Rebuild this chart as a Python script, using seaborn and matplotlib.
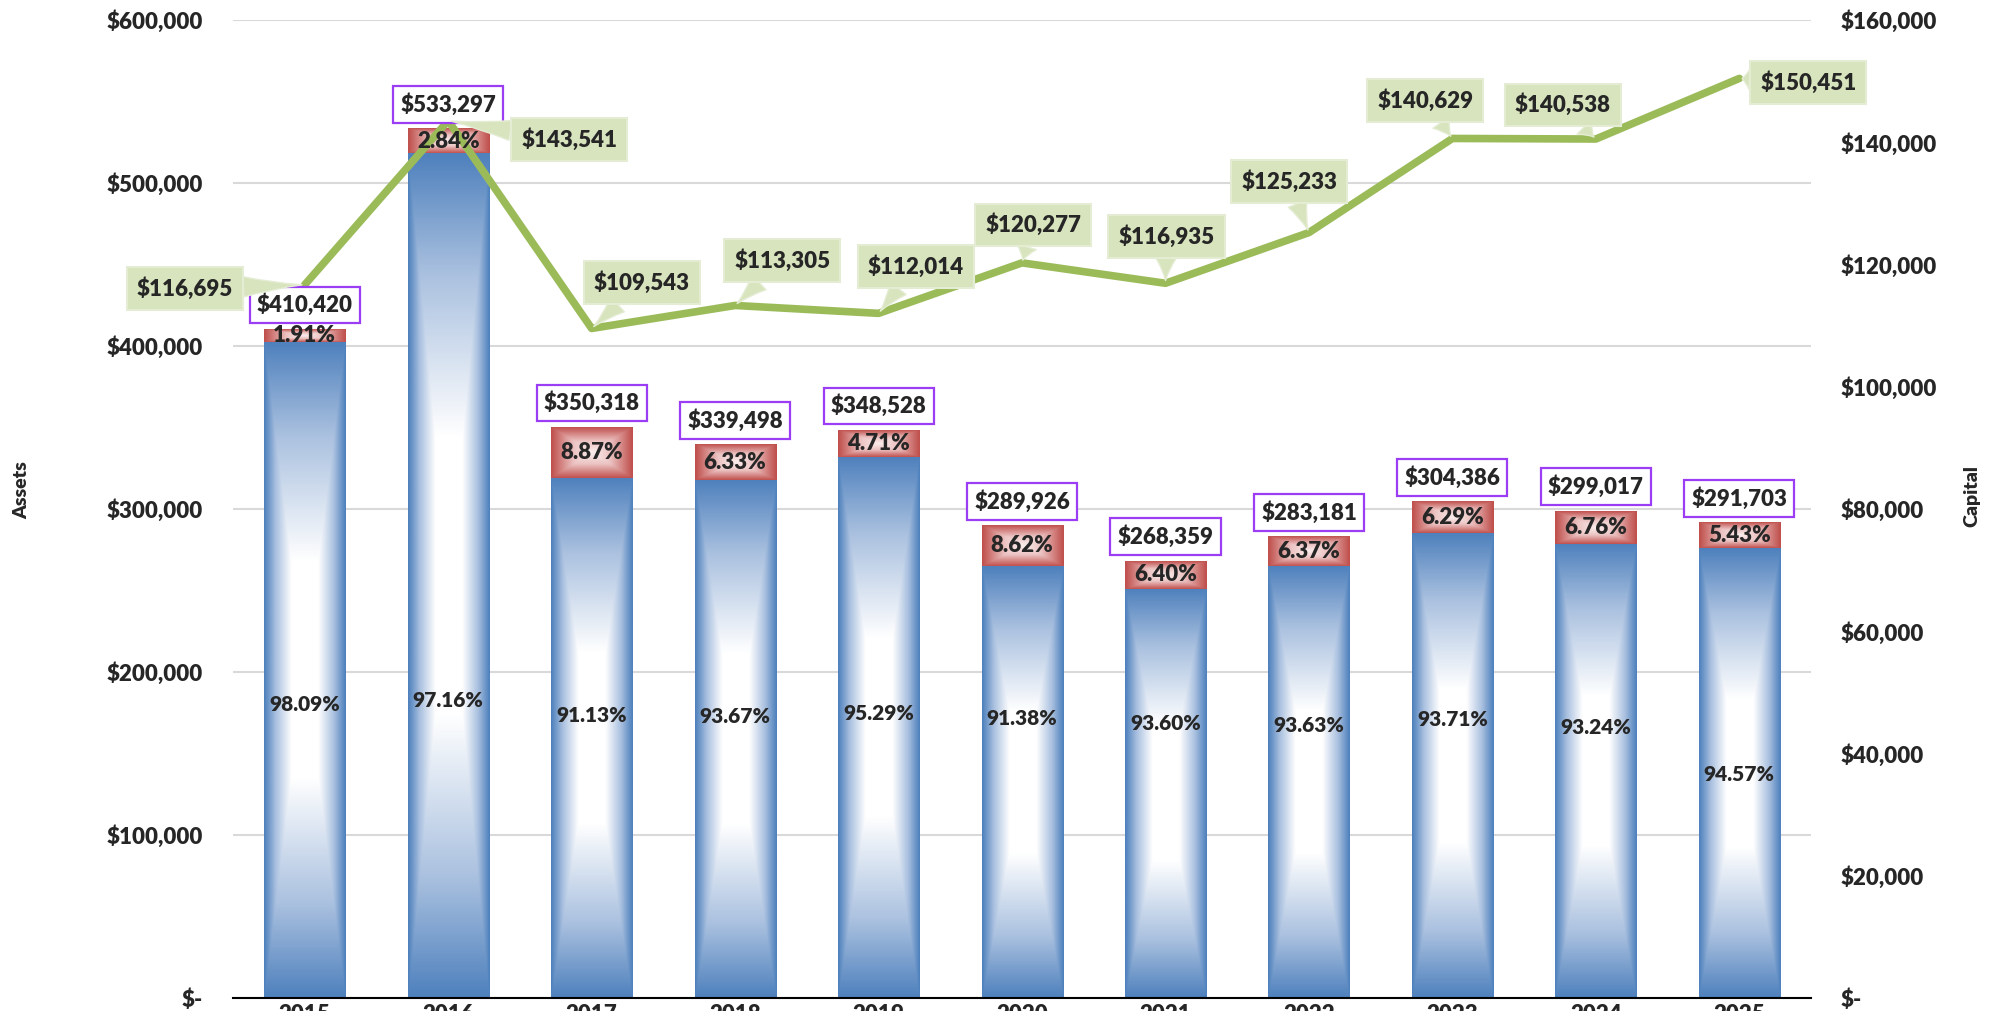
import numpy as np
import pandas as pd
import matplotlib
matplotlib.use("Agg")
import matplotlib.pyplot as plt
from matplotlib.colors import LinearSegmentedColormap
from matplotlib.ticker import FuncFormatter, MultipleLocator
import seaborn as sns

years = ['2015', '2016', '2017', '2018', '2019', '2020', '2021', '2022', '2023', '2024', '2025']
assets = [410420, 533297, 350318, 339498, 348528, 289926, 268359, 283181, 304386, 299017, 291703]
blue_pct = [98.09, 97.16, 91.13, 93.67, 95.29, 91.38, 93.60, 93.63, 93.71, 93.24, 94.57]
red_pct = [1.91, 2.84, 8.87, 6.33, 4.71, 8.62, 6.40, 6.37, 6.29, 6.76, 5.43]
capital = [116695, 143541, 109543, 113305, 112014, 120277, 116935, 125233, 140629, 140538, 150451]

# layout only: where the labels sit (fraction of blue bar / callout offset in px)
blue_lbl_frac = [0.448, 0.352, 0.542, 0.544, 0.526, 0.648, 0.671, 0.63, 0.6, 0.596, 0.498]
callout_off = [(-120, -4), (121, -19), (50, 46), (47, 45), (37, 47), (11, 38),
               (1, 47), (-20, 51), (-27, 38), (-33, 34), (69, -4)]

df = pd.DataFrame({'year': years, 'assets': assets, 'blue_pct': blue_pct,
                   'red_pct': red_pct, 'capital': capital})
df['blue'] = df['assets'] * df['blue_pct'] / 100

sns.set_theme(style='white')
plt.rcParams['font.family'] = ['Lato', 'DejaVu Sans']
W = 'heavy'
plt.rcParams['font.weight'] = W
FS = 16

fig = plt.figure(figsize=(19.95, 10.11), dpi=100)
ax = fig.add_axes([0.1168, 0.01286, 0.7910, 0.9673])

sns.barplot(data=df, x='year', y='assets', color='#C0504D', width=0.565, errorbar=None, ax=ax)
sns.barplot(data=df, x='year', y='blue', color='#4F81BD', width=0.565, errorbar=None, ax=ax)

n = len(years)
red_patches = ax.patches[:n]
blue_patches = ax.patches[n:2 * n]

blue_cmap = LinearSegmentedColormap.from_list('b', [(0, '#FFFFFF'), (0.33, '#FFFFFF'),
                                                    (0.72, '#A9C0DF'), (1, '#4F81BD')])
red_cmap = LinearSegmentedColormap.from_list('r', [(0, '#FBEDED'), (0.45, '#EBC3C2'),
                                                   (1, '#C0504D')])

u = np.linspace(-1, 1, 80)
v = np.linspace(-1, 1, 300)
U, V = np.meshgrid(u, v)
T = np.maximum(np.abs(U), np.abs(V))

for rp, bp in zip(red_patches, blue_patches):
    x0 = bp.get_x()
    x1 = x0 + bp.get_width()
    hb = bp.get_height()
    ht = rp.get_height()
    ax.imshow(T, cmap=blue_cmap, vmin=0, vmax=1, extent=[x0, x1, 0, hb],
              aspect='auto', interpolation='bilinear', zorder=1, origin='lower')
    ax.imshow(T, cmap=red_cmap, vmin=0, vmax=1, extent=[x0, x1, hb, ht],
              aspect='auto', interpolation='bilinear', zorder=1, origin='lower')
    rp.set_visible(False)
    bp.set_visible(False)

ax.set_xlim(-0.5, n - 0.5)
ax.set_ylim(0, 600000)
ax.yaxis.set_major_locator(MultipleLocator(100000))
money = FuncFormatter(lambda val, pos: '$-' if val == 0 else f'${val:,.0f}')
ax.yaxis.set_major_formatter(money)
ax.grid(axis='y', color='#D9D9D9', lw=1.5)
ax.grid(axis='x', visible=False)
ax.set_axisbelow(True)
ax.set_xlabel('')
ax.set_ylabel('')
for s in ['left', 'right', 'top']:
    ax.spines[s].set_visible(False)
ax.spines['bottom'].set_color('black')
ax.spines['bottom'].set_linewidth(1.5)
ax.set_xticks(np.arange(-0.5, n, 1.0), minor=True)
ax.tick_params(axis='x', which='major', length=0, pad=4, labelsize=FS)
ax.tick_params(axis='x', which='minor', length=20, width=1.5, color='black', direction='out')
ax.tick_params(axis='y', length=0, pad=22, labelsize=FS)
for lab in ax.get_xticklabels() + ax.get_yticklabels():
    lab.set_fontweight(W)

ax2 = ax.twinx()
sns.lineplot(x=np.arange(n), y=df['capital'], color='#9BBB59', lw=5.5, ax=ax2, zorder=3)
ax2.set_ylim(0, 160000)
ax2.yaxis.set_major_locator(MultipleLocator(20000))
ax2.yaxis.set_major_formatter(money)
ax2.tick_params(axis='y', length=0, pad=21, labelsize=FS)
ax2.grid(False)
ax2.set_ylabel('')
for s in ax2.spines.values():
    s.set_visible(False)
for lab in ax2.get_yticklabels():
    lab.set_fontweight(W)

# bar labels go on the upper axes so the line passes beneath them
for i in range(n):
    tot = df['assets'][i]
    bl = df['blue'][i]
    ax2.annotate(f'${tot:,.0f}', (i, tot), xycoords=ax.transData, xytext=(0, 24),
                 textcoords='offset pixels', ha='center', va='center',
                 fontsize=FS, fontweight=W, zorder=5,
                 bbox=dict(boxstyle='square,pad=0.32', fc='white', ec='#9B3DF5', lw=1.6))
    ax2.text(i, (bl + tot) / 2, f'{red_pct[i]:.2f}%', transform=ax.transData,
             ha='center', va='center', fontsize=FS, fontweight=W, zorder=4)
    ax2.text(i, bl * blue_lbl_frac[i], f'{blue_pct[i]:.2f}%', transform=ax.transData,
             ha='center', va='center', fontsize=FS - 1, fontweight=W, zorder=4)

for i in range(n):
    ax2.annotate(f'${capital[i]:,.0f}', (i, capital[i]), xytext=callout_off[i],
                 textcoords='offset pixels', ha='center', va='center',
                 fontsize=FS, fontweight=W, zorder=6,
                 bbox=dict(boxstyle='square,pad=0.45', fc='#D7E4BD', ec='#E4ECD3', lw=1.5),
                 arrowprops=dict(arrowstyle='wedge,tail_width=0.9,shrink_factor=0.4',
                                 fc='#D7E4BD', ec='#E4ECD3', lw=1, shrinkA=0, shrinkB=2))

fig.text(22 / 1995, 1 - 490 / 1011, 'Assets', rotation=90, ha='center', va='center',
         fontsize=14, fontweight=W)
fig.text(1972 / 1995, 1 - 496 / 1011, 'Capital', rotation=90, ha='center', va='center',
         fontsize=14, fontweight=W)

fig.savefig('out.png', dpi=100)
